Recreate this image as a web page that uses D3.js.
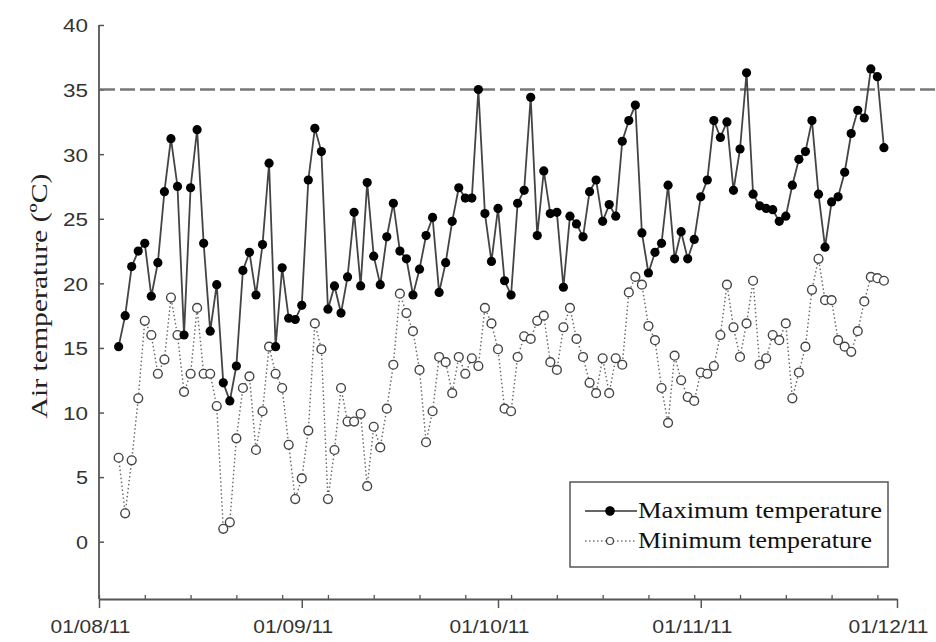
<!DOCTYPE html>
<html>
<head>
<meta charset="utf-8">
<script src="https://cdn.jsdelivr.net/npm/d3@7"></script>
<style>
  body { margin: 0; background: #fff; }
  svg { display: block; }
</style>
</head>
<body>
<div id="chart"></div>
<script>
// daily data, 04/08/11 .. 29/11/11
const startDay = new Date(2011, 7, 4)
const endDay = new Date(2011, 10, 30)
const days = d3.timeDay.range(startDay, endDay)

const maxTemp = [
  15.1, 17.5, 21.3, 22.5, 23.1, 19.0, 21.6, 27.1, 31.2, 27.5,
  16.0, 27.4, 31.9, 23.1, 16.3, 19.9, 12.3, 10.9, 13.6, 21.0,
  22.4, 19.1, 23.0, 29.3, 15.1, 21.2, 17.3, 17.2, 18.3, 28.0,
  32.0, 30.2, 18.0, 19.8, 17.7, 20.5, 25.5, 19.8, 27.8, 22.1,
  19.9, 23.6, 26.2, 22.5, 21.9, 19.1, 21.1, 23.7, 25.1, 19.3,
  21.6, 24.8, 27.4, 26.6, 26.6, 35.0, 25.4, 21.7, 25.8, 20.2,
  19.1, 26.2, 27.2, 34.4, 23.7, 28.7, 25.4, 25.5, 19.7, 25.2,
  24.6, 23.6, 27.1, 28.0, 24.8, 26.1, 25.2, 31.0, 32.6, 33.8,
  23.9, 20.8, 22.4, 23.1, 27.6, 21.9, 24.0, 21.9, 23.4, 26.7,
  28.0, 32.6, 31.3, 32.5, 27.2, 30.4, 36.3, 26.9, 26.0, 25.8,
  25.7, 24.8, 25.2, 27.6, 29.6, 30.2, 32.6, 26.9, 22.8, 26.3,
  26.7, 28.6, 31.6, 33.4, 32.8, 36.6, 36.0, 30.5
]
const minTemp = [
  6.5, 2.2, 6.3, 11.1, 17.1, 16.0, 13.0, 14.1, 18.9, 16.0,
  11.6, 13.0, 18.1, 13.0, 13.0, 10.5, 1.0, 1.5, 8.0, 11.9,
  12.8, 7.1, 10.1, 15.1, 13.0, 11.9, 7.5, 3.3, 4.9, 8.6,
  16.9, 14.9, 3.3, 7.1, 11.9, 9.3, 9.3, 9.9, 4.3, 8.9,
  7.3, 10.3, 13.7, 19.2, 17.7, 16.3, 13.3, 7.7, 10.1, 14.3,
  13.9, 11.5, 14.3, 13.0, 14.2, 13.6, 18.1, 16.9, 14.9, 10.3,
  10.1, 14.3, 15.9, 15.7, 17.1, 17.5, 13.9, 13.3, 16.6, 18.1,
  15.7, 14.3, 12.3, 11.5, 14.2, 11.5, 14.2, 13.7, 19.3, 20.5,
  19.9, 16.7, 15.6, 11.9, 9.2, 14.4, 12.5, 11.2, 10.9, 13.1,
  13.0, 13.6, 16.0, 19.9, 16.6, 14.3, 16.9, 20.2, 13.7, 14.2,
  16.0, 15.6, 16.9, 11.1, 13.1, 15.1, 19.5, 21.9, 18.7, 18.7,
  15.6, 15.1, 14.7, 16.3, 18.6, 20.5, 20.4, 20.2
]
const yTicks = [0, 5, 10, 15, 20, 25, 30, 35, 40]
const threshold = 35
const legendLabels = ["Maximum temperature", "Minimum temperature"]
const yTitle = "Air temperature (ºC)"

const width = 936, height = 642
const axisY = 599

const svg = d3.select("#chart").append("svg")
  .attr("width", width)
  .attr("height", height)

const xScale = d3.scaleTime()
  .domain([new Date(2011, 7, 1), new Date(2011, 11, 1)])
  .range([99, 897])
const yScale = d3.scaleLinear()
  .domain([0, 40])
  .range([541.7, 25])

const axisColor = "#555"
const sans = "'Liberation Sans', Arial, sans-serif"
const serif = "'Liberation Serif', 'Times New Roman', serif"

// y axis
const yAxis = d3.axisLeft(yScale)
  .tickValues(yTicks)
  .tickSizeInner(-5)
  .tickSizeOuter(0)
  .tickPadding(11)
const gy = svg.append("g")
  .attr("transform", "translate(99,0)")
  .call(yAxis)
gy.select(".domain").remove()
gy.selectAll(".tick line").attr("stroke", axisColor).attr("stroke-width", 1.5)
gy.selectAll(".tick text")
  .attr("fill", "#333")
  .style("font-family", sans)
  .style("font-size", "19px")
  .attr("dy", "0.36em")
  .attr("textLength", d => d < 10 ? 12 : 25)
  .attr("lengthAdjust", "spacingAndGlyphs")
svg.append("line")
  .attr("x1", 99).attr("x2", 99)
  .attr("y1", yScale(40)).attr("y2", axisY)
  .attr("stroke", axisColor).attr("stroke-width", 1.8)

// x axis: months below, weeks above
const months = d3.timeMonth.range(new Date(2011, 7, 1), new Date(2011, 11, 2))
const weeks = d3.timeMonday.range(new Date(2011, 7, 1), new Date(2011, 11, 1))
const xAxis = d3.axisBottom(xScale)
  .tickValues(months)
  .tickFormat(d3.timeFormat("%d/%m/%y"))
  .tickSizeInner(9)
  .tickSizeOuter(0)
  .tickPadding(12)
const gx = svg.append("g")
  .attr("transform", "translate(0," + axisY + ")")
  .call(xAxis)
gx.select(".domain").attr("stroke", axisColor).attr("stroke-width", 1.8)
gx.selectAll(".tick line").attr("stroke", axisColor).attr("stroke-width", 1.5)
gx.selectAll(".tick text")
  .attr("fill", "#333")
  .attr("x", -9)
  .style("font-family", sans)
  .style("font-size", "19px")
  .attr("textLength", 80)
  .attr("lengthAdjust", "spacingAndGlyphs")
const xMinor = d3.axisTop(xScale)
  .tickValues(weeks)
  .tickSizeInner(4)
  .tickSizeOuter(0)
  .tickFormat("")
const gxm = svg.append("g")
  .attr("transform", "translate(0," + axisY + ")")
  .call(xMinor)
gxm.select(".domain").remove()
gxm.selectAll(".tick line").attr("stroke", axisColor).attr("stroke-width", 1.3)

// y title
svg.append("text")
  .attr("transform", "translate(47,296) rotate(-90)")
  .attr("text-anchor", "middle")
  .style("font-family", serif)
  .style("font-size", "24px")
  .attr("fill", "#222")
  .attr("textLength", 245)
  .attr("lengthAdjust", "spacingAndGlyphs")
  .text(yTitle)

// threshold line
svg.append("line")
  .attr("x1", 100).attr("x2", width)
  .attr("y1", yScale(threshold)).attr("y2", yScale(threshold))
  .attr("stroke", "#777")
  .attr("stroke-width", 2.5)
  .attr("stroke-dasharray", "15,5")

const data = days.map((d, i) => ({ date: d, max: maxTemp[i], min: minTemp[i] }))

// min series
const lineMin = d3.line().x(d => xScale(d.date)).y(d => yScale(d.min))
svg.append("path")
  .datum(data)
  .attr("d", lineMin)
  .attr("fill", "none")
  .attr("stroke", "#666")
  .attr("stroke-width", 1.4)
  .attr("stroke-dasharray", "1.5,2.5")
svg.append("g").selectAll("circle")
  .data(data)
  .join("circle")
  .attr("cx", d => xScale(d.date))
  .attr("cy", d => yScale(d.min))
  .attr("r", 4.4)
  .attr("fill", "#fff")
  .attr("stroke", "#444")
  .attr("stroke-width", 1.4)

// max series
const lineMax = d3.line().x(d => xScale(d.date)).y(d => yScale(d.max))
svg.append("path")
  .datum(data)
  .attr("d", lineMax)
  .attr("fill", "none")
  .attr("stroke", "#444")
  .attr("stroke-width", 1.8)
svg.append("g").selectAll("circle")
  .data(data)
  .join("circle")
  .attr("cx", d => xScale(d.date))
  .attr("cy", d => yScale(d.max))
  .attr("r", 4.6)
  .attr("fill", "#000")

// legend
const legend = svg.append("g")
legend.append("rect")
  .attr("x", 570).attr("y", 482)
  .attr("width", 318).attr("height", 85)
  .attr("fill", "#fff")
  .attr("stroke", "#555")
  .attr("stroke-width", 1.5)
const rows = [
  { y: 511, label: legendLabels[0], dash: null, fill: "#000", stroke: "#000", r: 4.2, lc: "#333", len: 244 },
  { y: 541, label: legendLabels[1], dash: "1.5,2.5", fill: "#fff", stroke: "#444", r: 3.5, lc: "#777", len: 234 }
]
rows.forEach(r => {
  legend.append("line")
    .attr("x1", 585).attr("x2", 637)
    .attr("y1", r.y).attr("y2", r.y)
    .attr("stroke", r.lc).attr("stroke-width", 1.5)
    .attr("stroke-dasharray", r.dash)
  legend.append("circle")
    .attr("cx", 610).attr("cy", r.y).attr("r", r.r)
    .attr("fill", r.fill).attr("stroke", r.stroke).attr("stroke-width", 1.2)
  legend.append("text")
    .attr("x", 638).attr("y", r.y + 7)
    .style("font-family", serif)
    .style("font-size", "23px")
    .attr("fill", "#111")
    .attr("textLength", r.len)
    .attr("lengthAdjust", "spacingAndGlyphs")
    .text(r.label)
})
</script>
</body>
</html>
